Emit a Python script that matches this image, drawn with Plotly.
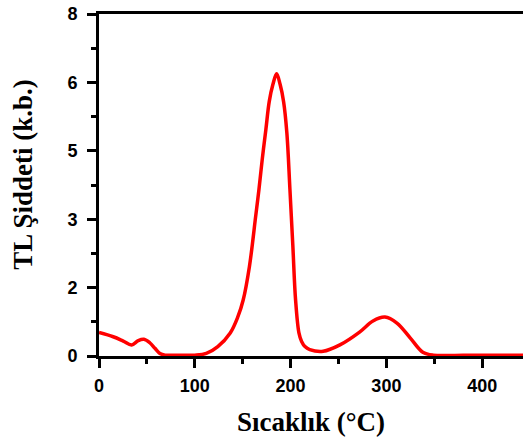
import plotly.graph_objects as go

# Temperature (°C) and TL intensity (a.u.)
temperature = [0, 14.8, 25.3, 34, 41, 46.9, 53, 58.4, 63.6, 69, 80, 100, 112, 124, 137,
               145, 150.5, 157, 163.5, 167, 170.4, 174.2, 177.7, 181.5, 185.4, 189.1, 192.7,
               196.1, 199.3, 202.3, 205.2, 208.7, 211.5, 215, 220, 234, 251.5, 272, 286,
               298.5, 311, 325, 338, 349, 380, 443]
intensity = [0.55, 0.45, 0.35, 0.26, 0.36, 0.39, 0.31, 0.18, 0.06, 0.02, 0.02, 0.02, 0.06,
             0.22, 0.54, 0.92, 1.31, 2.09, 3.26, 3.9, 4.6, 5.3, 5.95, 6.35, 6.6, 6.35, 5.95,
             5.22, 3.9, 2.6, 1.31, 0.54, 0.34, 0.22, 0.15, 0.11, 0.26, 0.56, 0.82, 0.91,
             0.77, 0.42, 0.09, 0.02, 0.02, 0.02]

y_tickvals = [0, 1.6, 3.2, 4.8, 6.4, 8]
y_ticktext = ["0", "2", "3", "5", "6", "8"]
y_minor = [0.8, 2.4, 4.0, 5.6, 7.2]
x_tickvals = [0, 100, 200, 300, 400]
x_ticktext = ["0", "100", "200", "300", "400"]

fig = go.Figure()
fig.add_trace(go.Scatter(
    x=temperature, y=intensity, mode="lines",
    line=dict(color="#ff0000", width=3.5, shape="spline", smoothing=1.0),
    hoverinfo="skip", showlegend=False,
))

tickfont = dict(family="Liberation Sans, Arial, sans-serif", size=18, color="black")
titlefont = dict(family="Liberation Serif, Times New Roman, serif", size=27, color="black")

fig.update_layout(
    width=523, height=440,
    margin=dict(l=99, r=0, t=14, b=84),
    paper_bgcolor="white", plot_bgcolor="white",
    font=dict(family="Liberation Sans, Arial, sans-serif", color="black"),
    annotations=[dict(
        text="<b>TL Şiddeti (k.b.)</b>", textangle=-90, font=titlefont,
        xref="paper", yref="paper", x=-0.179, y=0.53,
        xanchor="center", yanchor="middle", showarrow=False,
    )],
)
fig.update_xaxes(
    range=[0, 442.6], tickvals=x_tickvals,
    ticktext=["<b>%s</b>" % t for t in x_ticktext],
    showgrid=False, zeroline=False,
    showline=True, linecolor="black", linewidth=3, mirror=True,
    ticks="outside", ticklen=9, tickwidth=3, tickcolor="black",
    minor=dict(ticks="outside", dtick=50, ticklen=5, tickwidth=3, tickcolor="black"),
    tickfont=tickfont, ticklabelstandoff=2,
    title=dict(text="<b>Sıcaklık (°C)</b>", font=titlefont, standoff=18),
)
fig.update_yaxes(
    range=[0, 8], tickvals=y_tickvals,
    ticktext=["<b>%s</b>" % t for t in y_ticktext],
    showgrid=False, zeroline=False,
    showline=True, linecolor="black", linewidth=3, mirror=False,
    ticks="outside", ticklen=9, tickwidth=3, tickcolor="black",
    minor=dict(ticks="outside", tickvals=y_minor, ticklen=5, tickwidth=3, tickcolor="black"),
    tickfont=tickfont, ticklabelstandoff=6,
)

fig.write_html("out.html")
